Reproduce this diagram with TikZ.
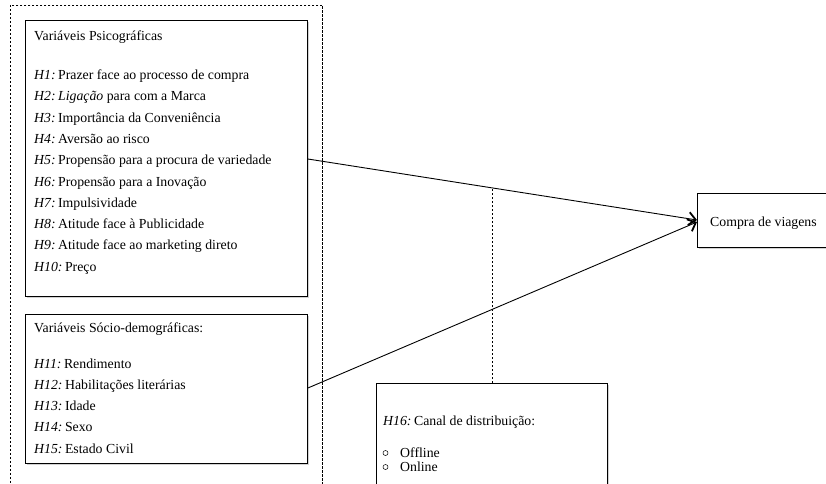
\documentclass[tikz,border=0pt]{standalone}
\usepackage{fontspec}
\setmainfont{Liberation Serif}
\usetikzlibrary{arrows.meta,shadows,calc}
\newcommand{\hyp}[1]{\textit{#1:}\hspace{0.18em}}
\begin{document}
\begin{tikzpicture}[x=1pt,y=-1pt,
  box/.style={draw,line width=0.9pt,fill=white,inner sep=0pt,anchor=north west,
    drop shadow={opacity=0.35,shadow xshift=1.2pt,shadow yshift=-1.2pt}},
  txt/.style={anchor=base west,inner sep=0pt,font=\fontsize{13.8}{16}\selectfont},
  conn/.style={line width=0.9pt,-{Straight Barb[length=7pt,width=13pt,line width=1.8pt]}},
  dsh/.style={line width=0.7pt,dash pattern=on 2.5pt off 1.5pt}]
\useasboundingbox (0,0) rectangle (826,483);
\clip (0,0) rectangle (826,483);
\fill[white] (0,0) rectangle (826,483);
% outer dashed frame
\node[draw,dsh,inner sep=0pt,anchor=north west,minimum width=312,minimum height=500] (frame) at (10,4.5) {};
% boxes
\node[box,minimum width=282,minimum height=276] (psy) at (25,20) {};
\node[box,minimum width=282,minimum height=149] (soc) at (25,314) {};
\node[box,minimum width=140,minimum height=54] (buy) at (697,193) {};
\node[box,minimum width=231,minimum height=120] (chan) at (376,383) {};
% psychographic texts
\node[txt] (t0) at (34,40) {Variáveis Psicográficas};
\node[txt] (t1) at (34,79.5) {\hyp{H1}Prazer face ao processo de compra};
\node[txt] (t2) at (34,100.8) {\hyp{H2}\textit{Ligação} para com a Marca};
\node[txt] (t3) at (34,122.1) {\hyp{H3}Importância da Conveniência};
\node[txt] (t4) at (34,143.4) {\hyp{H4}Aversão ao risco};
\node[txt] (t5) at (34,164.7) {\hyp{H5}Propensão para a procura de variedade};
\node[txt] (t6) at (34,186) {\hyp{H6}Propensão para a Inovação};
\node[txt] (t7) at (34,207.3) {\hyp{H7}Impulsividade};
\node[txt] (t8) at (34,228.6) {\hyp{H8}Atitude face à Publicidade};
\node[txt] (t9) at (34,249.9) {\hyp{H9}Atitude face ao marketing direto};
\node[txt] (t10) at (34,271.2) {\hyp{H10}Preço};
% socio-demographic texts
\node[txt] (s0) at (34,332) {Variáveis Sócio-demográficas:};
\node[txt] (s1) at (34,368) {\hyp{H11}Rendimento};
\node[txt] (s2) at (34,389.3) {\hyp{H12}Habilitações literárias};
\node[txt] (s3) at (34,410.6) {\hyp{H13}Idade};
\node[txt] (s4) at (34,431.9) {\hyp{H14}Sexo};
\node[txt] (s5) at (34,453.2) {\hyp{H15}Estado Civil};
% outcome
\node[txt] (b0) at (710,226.5) {Compra de viagens};
% channel
\node[txt] (c0) at (383,425) {\hyp{H16}Canal de distribuição:};
\node[draw,circle,line width=0.5pt,minimum size=5pt,inner sep=0pt] (o1) at (385.5,453) {};
\node[txt] (c1) at (400,457) {Offline};
\node[draw,circle,line width=0.5pt,minimum size=5pt,inner sep=0pt] (o2) at (385.5,467) {};
\node[txt] (c2) at (400,471) {Online};
% connectors
\coordinate (a1s) at (psy.east |- 0,159);
\coordinate (a1e) at (buy.west |- 0,220);
\coordinate (a2s) at (soc.east |- 0,388);
\coordinate (a2e) at (buy.west |- 0,222);
\draw[conn] (a1s) -- (a1e);
\draw[conn] (a2s) -- (a2e);
\path (a1s) -- (a1e) coordinate[pos=0.472] (dm);
\draw[dsh] (chan.north) -- (chan.north |- dm);
\end{tikzpicture}
\end{document}
